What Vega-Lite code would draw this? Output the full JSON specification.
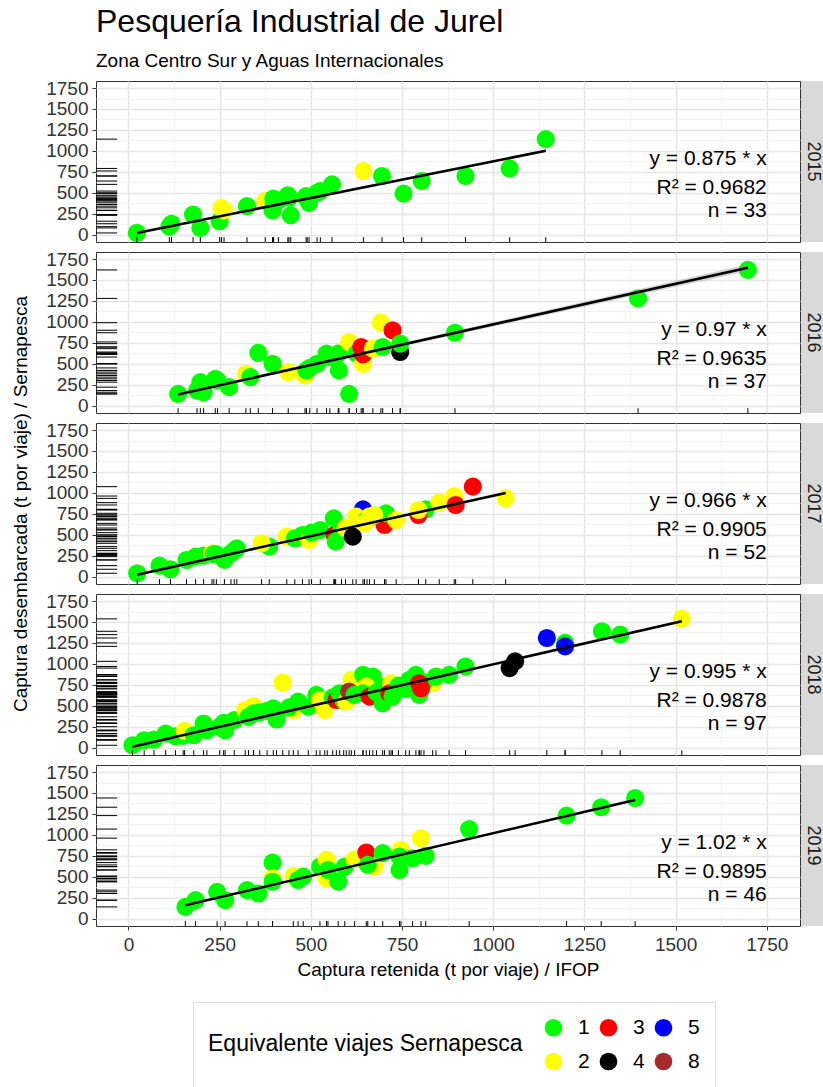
{
"$schema": "https://vega.github.io/schema/vega-lite/v6.json",
"autosize": {"type": "pad"},
"padding": {"left": 11, "top": 5, "right": 0, "bottom": 2},
"title": {"text": "Pesquería Industrial de Jurel", "subtitle": "Zona Centro Sur y Aguas Internacionales", "anchor": "start", "frame": "group", "font": "Liberation Sans", "fontSize": 32, "fontWeight": "normal", "color": "black", "subtitleFont": "Liberation Sans", "subtitleFontSize": 19, "subtitleColor": "black", "subtitlePadding": 13, "offset": 7},
"datasets": {
"pts": [
{"year":"2015","x":23,"y":20,"eq":"1"},{"year":"2015","x":112,"y":95,"eq":"1"},{"year":"2015","x":118,"y":130,"eq":"1"},{"year":"2015","x":177,"y":240,"eq":"1"},{"year":"2015","x":197,"y":80,"eq":"1"},{"year":"2015","x":250,"y":160,"eq":"1"},{"year":"2015","x":255,"y":320,"eq":"2"},{"year":"2015","x":262,"y":290,"eq":"2"},{"year":"2015","x":325,"y":340,"eq":"1"},{"year":"2015","x":375,"y":400,"eq":"2"},{"year":"2015","x":397,"y":430,"eq":"1"},{"year":"2015","x":395,"y":290,"eq":"1"},{"year":"2015","x":398,"y":360,"eq":"1"},{"year":"2015","x":411,"y":410,"eq":"1"},{"year":"2015","x":437,"y":470,"eq":"1"},{"year":"2015","x":440,"y":440,"eq":"1"},{"year":"2015","x":445,"y":230,"eq":"1"},{"year":"2015","x":487,"y":460,"eq":"1"},{"year":"2015","x":490,"y":420,"eq":"1"},{"year":"2015","x":495,"y":380,"eq":"1"},{"year":"2015","x":517,"y":500,"eq":"1"},{"year":"2015","x":526,"y":520,"eq":"1"},{"year":"2015","x":558,"y":600,"eq":"1"},{"year":"2015","x":644,"y":760,"eq":"2"},{"year":"2015","x":695,"y":700,"eq":"1"},{"year":"2015","x":754,"y":490,"eq":"1"},{"year":"2015","x":804,"y":640,"eq":"1"},{"year":"2015","x":924,"y":700,"eq":"1"},{"year":"2015","x":1045,"y":790,"eq":"1"},{"year":"2015","x":1144,"y":1140,"eq":"1"},
{"year":"2016","x":136,"y":140,"eq":"1"},{"year":"2016","x":188,"y":180,"eq":"1"},{"year":"2016","x":197,"y":280,"eq":"1"},{"year":"2016","x":206,"y":160,"eq":"1"},{"year":"2016","x":238,"y":320,"eq":"1"},{"year":"2016","x":244,"y":300,"eq":"1"},{"year":"2016","x":276,"y":220,"eq":"1"},{"year":"2016","x":322,"y":380,"eq":"2"},{"year":"2016","x":334,"y":340,"eq":"1"},{"year":"2016","x":356,"y":630,"eq":"1"},{"year":"2016","x":395,"y":500,"eq":"1"},{"year":"2016","x":438,"y":400,"eq":"2"},{"year":"2016","x":484,"y":360,"eq":"2"},{"year":"2016","x":488,"y":420,"eq":"1"},{"year":"2016","x":497,"y":450,"eq":"1"},{"year":"2016","x":517,"y":500,"eq":"1"},{"year":"2016","x":543,"y":620,"eq":"1"},{"year":"2016","x":552,"y":580,"eq":"1"},{"year":"2016","x":575,"y":620,"eq":"1"},{"year":"2016","x":577,"y":420,"eq":"1"},{"year":"2016","x":605,"y":760,"eq":"2"},{"year":"2016","x":605,"y":140,"eq":"1"},{"year":"2016","x":625,"y":620,"eq":"1"},{"year":"2016","x":643,"y":500,"eq":"2"},{"year":"2016","x":638,"y":700,"eq":"3"},{"year":"2016","x":643,"y":612,"eq":"3"},{"year":"2016","x":670,"y":680,"eq":"2"},{"year":"2016","x":697,"y":700,"eq":"1"},{"year":"2016","x":692,"y":990,"eq":"2"},{"year":"2016","x":724,"y":900,"eq":"3"},{"year":"2016","x":745,"y":640,"eq":"4"},{"year":"2016","x":745,"y":740,"eq":"1"},{"year":"2016","x":895,"y":870,"eq":"1"},{"year":"2016","x":1397,"y":1280,"eq":"1"},{"year":"2016","x":1698,"y":1620,"eq":"1"},
{"year":"2017","x":24,"y":40,"eq":"1"},{"year":"2017","x":85,"y":131,"eq":"1"},{"year":"2017","x":115,"y":88,"eq":"1"},{"year":"2017","x":159,"y":199,"eq":"1"},{"year":"2017","x":184,"y":239,"eq":"1"},{"year":"2017","x":206,"y":251,"eq":"1"},{"year":"2017","x":229,"y":278,"eq":"2"},{"year":"2017","x":234,"y":270,"eq":"1"},{"year":"2017","x":241,"y":265,"eq":"1"},{"year":"2017","x":263,"y":200,"eq":"1"},{"year":"2017","x":281,"y":278,"eq":"1"},{"year":"2017","x":290,"y":310,"eq":"1"},{"year":"2017","x":297,"y":338,"eq":"1"},{"year":"2017","x":386,"y":358,"eq":"1"},{"year":"2017","x":365,"y":398,"eq":"2"},{"year":"2017","x":434,"y":477,"eq":"2"},{"year":"2017","x":456,"y":457,"eq":"1"},{"year":"2017","x":477,"y":497,"eq":"1"},{"year":"2017","x":495,"y":437,"eq":"2"},{"year":"2017","x":502,"y":525,"eq":"1"},{"year":"2017","x":526,"y":557,"eq":"1"},{"year":"2017","x":643,"y":803,"eq":"5"},{"year":"2017","x":565,"y":497,"eq":"3"},{"year":"2017","x":568,"y":418,"eq":"1"},{"year":"2017","x":563,"y":696,"eq":"1"},{"year":"2017","x":584,"y":560,"eq":"1"},{"year":"2017","x":595,"y":580,"eq":"2"},{"year":"2017","x":615,"y":477,"eq":"4"},{"year":"2017","x":624,"y":716,"eq":"2"},{"year":"2017","x":654,"y":680,"eq":"1"},{"year":"2017","x":647,"y":636,"eq":"2"},{"year":"2017","x":661,"y":716,"eq":"2"},{"year":"2017","x":702,"y":616,"eq":"3"},{"year":"2017","x":706,"y":756,"eq":"1"},{"year":"2017","x":674,"y":736,"eq":"2"},{"year":"2017","x":734,"y":676,"eq":"2"},{"year":"2017","x":815,"y":803,"eq":"1"},{"year":"2017","x":795,"y":736,"eq":"3"},{"year":"2017","x":795,"y":795,"eq":"2"},{"year":"2017","x":852,"y":883,"eq":"2"},{"year":"2017","x":893,"y":962,"eq":"2"},{"year":"2017","x":897,"y":855,"eq":"3"},{"year":"2017","x":944,"y":1074,"eq":"3"},{"year":"2017","x":1034,"y":934,"eq":"2"},
{"year":"2018","x":11,"y":28,"eq":"1"},{"year":"2018","x":43,"y":88,"eq":"1"},{"year":"2018","x":70,"y":96,"eq":"1"},{"year":"2018","x":102,"y":168,"eq":"1"},{"year":"2018","x":129,"y":136,"eq":"1"},{"year":"2018","x":150,"y":140,"eq":"1"},{"year":"2018","x":154,"y":200,"eq":"2"},{"year":"2018","x":179,"y":148,"eq":"1"},{"year":"2018","x":206,"y":288,"eq":"1"},{"year":"2018","x":215,"y":208,"eq":"1"},{"year":"2018","x":250,"y":250,"eq":"1"},{"year":"2018","x":261,"y":296,"eq":"1"},{"year":"2018","x":265,"y":208,"eq":"1"},{"year":"2018","x":290,"y":328,"eq":"1"},{"year":"2018","x":320,"y":449,"eq":"2"},{"year":"2018","x":343,"y":497,"eq":"2"},{"year":"2018","x":329,"y":368,"eq":"1"},{"year":"2018","x":343,"y":408,"eq":"1"},{"year":"2018","x":360,"y":420,"eq":"1"},{"year":"2018","x":380,"y":440,"eq":"1"},{"year":"2018","x":397,"y":469,"eq":"1"},{"year":"2018","x":406,"y":336,"eq":"1"},{"year":"2018","x":423,"y":777,"eq":"2"},{"year":"2018","x":452,"y":449,"eq":"2"},{"year":"2018","x":440,"y":480,"eq":"1"},{"year":"2018","x":465,"y":549,"eq":"1"},{"year":"2018","x":493,"y":489,"eq":"1"},{"year":"2018","x":515,"y":629,"eq":"1"},{"year":"2018","x":525,"y":569,"eq":"2"},{"year":"2018","x":538,"y":449,"eq":"2"},{"year":"2018","x":545,"y":520,"eq":"2"},{"year":"2018","x":560,"y":600,"eq":"1"},{"year":"2018","x":570,"y":569,"eq":"3"},{"year":"2018","x":579,"y":649,"eq":"1"},{"year":"2018","x":590,"y":560,"eq":"1"},{"year":"2018","x":597,"y":549,"eq":"2"},{"year":"2018","x":611,"y":809,"eq":"2"},{"year":"2018","x":605,"y":669,"eq":"8"},{"year":"2018","x":643,"y":869,"eq":"1"},{"year":"2018","x":670,"y":849,"eq":"1"},{"year":"2018","x":620,"y":630,"eq":"1"},{"year":"2018","x":652,"y":729,"eq":"2"},{"year":"2018","x":643,"y":649,"eq":"1"},{"year":"2018","x":661,"y":609,"eq":"3"},{"year":"2018","x":680,"y":660,"eq":"1"},{"year":"2018","x":697,"y":529,"eq":"1"},{"year":"2018","x":702,"y":729,"eq":"1"},{"year":"2018","x":720,"y":769,"eq":"2"},{"year":"2018","x":715,"y":649,"eq":"3"},{"year":"2018","x":724,"y":609,"eq":"1"},{"year":"2018","x":740,"y":740,"eq":"1"},{"year":"2018","x":760,"y":700,"eq":"1"},{"year":"2018","x":770,"y":809,"eq":"1"},{"year":"2018","x":788,"y":869,"eq":"1"},{"year":"2018","x":797,"y":629,"eq":"1"},{"year":"2018","x":834,"y":769,"eq":"2"},{"year":"2018","x":810,"y":780,"eq":"1"},{"year":"2018","x":797,"y":769,"eq":"3"},{"year":"2018","x":802,"y":709,"eq":"3"},{"year":"2018","x":843,"y":849,"eq":"1"},{"year":"2018","x":879,"y":869,"eq":"1"},{"year":"2018","x":924,"y":969,"eq":"1"},{"year":"2018","x":1045,"y":950,"eq":"4"},{"year":"2018","x":1060,"y":1030,"eq":"4"},{"year":"2018","x":1147,"y":1309,"eq":"5"},{"year":"2018","x":1197,"y":1250,"eq":"1"},{"year":"2018","x":1197,"y":1209,"eq":"5"},{"year":"2018","x":1298,"y":1389,"eq":"1"},{"year":"2018","x":1348,"y":1349,"eq":"1"},{"year":"2018","x":1517,"y":1537,"eq":"2"},
{"year":"2019","x":156,"y":140,"eq":"1"},{"year":"2019","x":184,"y":220,"eq":"1"},{"year":"2019","x":243,"y":320,"eq":"1"},{"year":"2019","x":265,"y":220,"eq":"1"},{"year":"2019","x":325,"y":340,"eq":"1"},{"year":"2019","x":356,"y":300,"eq":"1"},{"year":"2019","x":395,"y":669,"eq":"1"},{"year":"2019","x":395,"y":480,"eq":"2"},{"year":"2019","x":395,"y":440,"eq":"1"},{"year":"2019","x":452,"y":509,"eq":"2"},{"year":"2019","x":465,"y":461,"eq":"1"},{"year":"2019","x":479,"y":501,"eq":"1"},{"year":"2019","x":525,"y":621,"eq":"1"},{"year":"2019","x":543,"y":701,"eq":"2"},{"year":"2019","x":543,"y":481,"eq":"2"},{"year":"2019","x":547,"y":581,"eq":"1"},{"year":"2019","x":575,"y":441,"eq":"1"},{"year":"2019","x":593,"y":621,"eq":"1"},{"year":"2019","x":620,"y":709,"eq":"2"},{"year":"2019","x":652,"y":789,"eq":"3"},{"year":"2019","x":674,"y":621,"eq":"2"},{"year":"2019","x":656,"y":641,"eq":"1"},{"year":"2019","x":697,"y":781,"eq":"1"},{"year":"2019","x":747,"y":821,"eq":"2"},{"year":"2019","x":743,"y":741,"eq":"1"},{"year":"2019","x":743,"y":581,"eq":"1"},{"year":"2019","x":779,"y":721,"eq":"1"},{"year":"2019","x":802,"y":961,"eq":"2"},{"year":"2019","x":815,"y":749,"eq":"1"},{"year":"2019","x":934,"y":1069,"eq":"1"},{"year":"2019","x":1201,"y":1230,"eq":"1"},{"year":"2019","x":1296,"y":1330,"eq":"1"},{"year":"2019","x":1389,"y":1440,"eq":"1"}
],
"fit": [
{"year":"2015","x":23,"fit":20,"lo":19.6,"hi":20.4},{"year":"2015","x":1144,"fit":1001,"lo":983,"hi":1019},
{"year":"2016","x":136,"fit":132,"lo":128,"hi":136},{"year":"2016","x":1698,"fit":1647,"lo":1605,"hi":1689},
{"year":"2017","x":24,"fit":23,"lo":22.7,"hi":23.3},{"year":"2017","x":1034,"fit":999,"lo":987,"hi":1011},
{"year":"2018","x":11,"fit":11,"lo":10.9,"hi":11.1},{"year":"2018","x":1517,"fit":1509,"lo":1494,"hi":1524},
{"year":"2019","x":156,"fit":159,"lo":157,"hi":161},{"year":"2019","x":1389,"fit":1417,"lo":1400,"hi":1434}
],
"ann": [
{"year":"2015","eq":"y = 0.875 * x","r2":"R² = 0.9682","n":"n = 33"},
{"year":"2016","eq":"y = 0.97 * x","r2":"R² = 0.9635","n":"n = 37"},
{"year":"2017","eq":"y = 0.966 * x","r2":"R² = 0.9905","n":"n = 52"},
{"year":"2018","eq":"y = 0.995 * x","r2":"R² = 0.9878","n":"n = 97"},
{"year":"2019","eq":"y = 1.02 * x","r2":"R² = 0.9895","n":"n = 46"}
]
},
"columns": 2,
"spacing": {"row": 10, "column": 1},
"bounds": "flush",
"concat": [
{"width": 704, "height": 161, "layer": [
{"data": {"name": "pts"}, "transform": [{"filter": "datum.year == '2015'"}], "mark": {"type": "circle", "size": 330, "opacity": 1},
 "encoding": {"x": {"field": "x", "type": "quantitative", "scale": {"domain": [-89, 1841], "nice": false, "zero": false}, "axis": {"title": null, "values": [0,125,250,375,500,625,750,875,1000,1125,1250,1375,1500,1625,1750], "labels": false, "ticks": false, "domain": false, "gridColor": {"condition": {"test": "datum.value % 250 === 0", "value": "#E6E6E6"}, "value": "#F0F0F0"}, "gridWidth": {"condition": {"test": "datum.value % 250 === 0", "value": 1.6}, "value": 0.9}}},
  "y": {"field": "y", "type": "quantitative", "scale": {"domain": [-88, 1834], "nice": false, "zero": false}, "axis": {"title": null, "format": "d", "values": [0,125,250,375,500,625,750,875,1000,1125,1250,1375,1500,1625,1750], "labelExpr": "datum.value % 250 === 0 ? datum.label : ''", "labelOverlap": false, "tickOpacity": {"condition": {"test": "datum.value % 250 === 0", "value": 1}, "value": 0}, "domain": false, "gridColor": {"condition": {"test": "datum.value % 250 === 0", "value": "#E6E6E6"}, "value": "#F0F0F0"}, "gridWidth": {"condition": {"test": "datum.value % 250 === 0", "value": 1.6}, "value": 0.9}}},
  "color": {"field": "eq", "type": "nominal", "title": "Equivalente viajes Sernapesca", "scale": {"domain": ["1","3","5","2","4","8"], "range": ["#00FF00","#FF0000","#0000FF","#FFFF00","#000000","#A52A2A"]}, "legend": {"orient": "none", "legendX": 97, "legendY": 921}}}},
{"data": {"name": "fit"}, "transform": [{"filter": "datum.year == '2015'"}], "mark": {"type": "area", "color": "#999999", "opacity": 0.4}, "encoding": {"x": {"field": "x", "type": "quantitative"}, "y": {"field": "lo", "type": "quantitative", "axis": {"title": null, "format": "d", "values": [0,125,250,375,500,625,750,875,1000,1125,1250,1375,1500,1625,1750], "labelExpr": "datum.value % 250 === 0 ? datum.label : ''", "labelOverlap": false, "tickOpacity": {"condition": {"test": "datum.value % 250 === 0", "value": 1}, "value": 0}, "domain": false, "gridColor": {"condition": {"test": "datum.value % 250 === 0", "value": "#E6E6E6"}, "value": "#F0F0F0"}, "gridWidth": {"condition": {"test": "datum.value % 250 === 0", "value": 1.6}, "value": 0.9}}}, "y2": {"field": "hi"}}},
{"data": {"name": "fit"}, "transform": [{"filter": "datum.year == '2015'"}], "mark": {"type": "line", "color": "black", "strokeWidth": 2.6}, "encoding": {"x": {"field": "x", "type": "quantitative"}, "y": {"field": "fit", "type": "quantitative", "axis": {"title": null, "format": "d", "values": [0,125,250,375,500,625,750,875,1000,1125,1250,1375,1500,1625,1750], "labelExpr": "datum.value % 250 === 0 ? datum.label : ''", "labelOverlap": false, "tickOpacity": {"condition": {"test": "datum.value % 250 === 0", "value": 1}, "value": 0}, "domain": false, "gridColor": {"condition": {"test": "datum.value % 250 === 0", "value": "#E6E6E6"}, "value": "#F0F0F0"}, "gridWidth": {"condition": {"test": "datum.value % 250 === 0", "value": 1.6}, "value": 0.9}}}}},
{"data": {"name": "pts"}, "transform": [{"filter": "datum.year == '2015'"}], "mark": {"type": "rule", "color": "black", "strokeWidth": 1}, "encoding": {"x": {"field": "x", "type": "quantitative"}, "y": {"datum": -88, "axis": {"title": null, "format": "d", "values": [0,125,250,375,500,625,750,875,1000,1125,1250,1375,1500,1625,1750], "labelExpr": "datum.value % 250 === 0 ? datum.label : ''", "labelOverlap": false, "tickOpacity": {"condition": {"test": "datum.value % 250 === 0", "value": 1}, "value": 0}, "domain": false, "gridColor": {"condition": {"test": "datum.value % 250 === 0", "value": "#E6E6E6"}, "value": "#F0F0F0"}, "gridWidth": {"condition": {"test": "datum.value % 250 === 0", "value": 1.6}, "value": 0.9}}}, "y2": {"datum": -30}}},
{"data": {"name": "pts"}, "transform": [{"filter": "datum.year == '2015'"}], "mark": {"type": "rule", "color": "black", "strokeWidth": 1}, "encoding": {"y": {"field": "y", "type": "quantitative", "axis": {"title": null, "format": "d", "values": [0,125,250,375,500,625,750,875,1000,1125,1250,1375,1500,1625,1750], "labelExpr": "datum.value % 250 === 0 ? datum.label : ''", "labelOverlap": false, "tickOpacity": {"condition": {"test": "datum.value % 250 === 0", "value": 1}, "value": 0}, "domain": false, "gridColor": {"condition": {"test": "datum.value % 250 === 0", "value": "#E6E6E6"}, "value": "#F0F0F0"}, "gridWidth": {"condition": {"test": "datum.value % 250 === 0", "value": 1.6}, "value": 0.9}}}, "x": {"datum": -89}, "x2": {"datum": -31}}},
{"data": {"name": "ann"}, "transform": [{"filter": "datum.year == '2015'"}], "mark": {"type": "text", "align": "right", "baseline": "alphabetic", "fontSize": 21, "color": "black"}, "encoding": {"x": {"datum": 1750}, "y": {"datum": 830, "axis": {"title": null, "format": "d", "values": [0,125,250,375,500,625,750,875,1000,1125,1250,1375,1500,1625,1750], "labelExpr": "datum.value % 250 === 0 ? datum.label : ''", "labelOverlap": false, "tickOpacity": {"condition": {"test": "datum.value % 250 === 0", "value": 1}, "value": 0}, "domain": false, "gridColor": {"condition": {"test": "datum.value % 250 === 0", "value": "#E6E6E6"}, "value": "#F0F0F0"}, "gridWidth": {"condition": {"test": "datum.value % 250 === 0", "value": 1.6}, "value": 0.9}}}, "text": {"field": "eq"}}},
{"data": {"name": "ann"}, "transform": [{"filter": "datum.year == '2015'"}], "mark": {"type": "text", "align": "right", "baseline": "alphabetic", "fontSize": 21, "color": "black"}, "encoding": {"x": {"datum": 1750}, "y": {"datum": 490, "axis": {"title": null, "format": "d", "values": [0,125,250,375,500,625,750,875,1000,1125,1250,1375,1500,1625,1750], "labelExpr": "datum.value % 250 === 0 ? datum.label : ''", "labelOverlap": false, "tickOpacity": {"condition": {"test": "datum.value % 250 === 0", "value": 1}, "value": 0}, "domain": false, "gridColor": {"condition": {"test": "datum.value % 250 === 0", "value": "#E6E6E6"}, "value": "#F0F0F0"}, "gridWidth": {"condition": {"test": "datum.value % 250 === 0", "value": 1.6}, "value": 0.9}}}, "text": {"field": "r2"}}},
{"data": {"name": "ann"}, "transform": [{"filter": "datum.year == '2015'"}], "mark": {"type": "text", "align": "right", "baseline": "alphabetic", "fontSize": 21, "color": "black"}, "encoding": {"x": {"datum": 1750}, "y": {"datum": 205, "axis": {"title": null, "format": "d", "values": [0,125,250,375,500,625,750,875,1000,1125,1250,1375,1500,1625,1750], "labelExpr": "datum.value % 250 === 0 ? datum.label : ''", "labelOverlap": false, "tickOpacity": {"condition": {"test": "datum.value % 250 === 0", "value": 1}, "value": 0}, "domain": false, "gridColor": {"condition": {"test": "datum.value % 250 === 0", "value": "#E6E6E6"}, "value": "#F0F0F0"}, "gridWidth": {"condition": {"test": "datum.value % 250 === 0", "value": 1.6}, "value": 0.9}}}, "text": {"field": "n"}}}
]},
{"width": 23, "height": 161, "view": {"fill": "#D9D9D9", "stroke": null}, "data": {"name": "ann"}, "transform": [{"filter": "datum.year == '2015'"}], "mark": {"type": "text", "angle": 90, "fontSize": 18, "color": "#1A1A1A", "align": "center", "baseline": "middle"}, "encoding": {"text": {"field": "year"}}},
{"width": 704, "height": 161, "layer": [
{"data": {"name": "pts"}, "transform": [{"filter": "datum.year == '2016'"}], "mark": {"type": "circle", "size": 330, "opacity": 1},
 "encoding": {"x": {"field": "x", "type": "quantitative", "scale": {"domain": [-89, 1841], "nice": false, "zero": false}, "axis": {"title": null, "values": [0,125,250,375,500,625,750,875,1000,1125,1250,1375,1500,1625,1750], "labels": false, "ticks": false, "domain": false, "gridColor": {"condition": {"test": "datum.value % 250 === 0", "value": "#E6E6E6"}, "value": "#F0F0F0"}, "gridWidth": {"condition": {"test": "datum.value % 250 === 0", "value": 1.6}, "value": 0.9}}},
  "y": {"field": "y", "type": "quantitative", "scale": {"domain": [-88, 1834], "nice": false, "zero": false}, "axis": {"title": null, "format": "d", "values": [0,125,250,375,500,625,750,875,1000,1125,1250,1375,1500,1625,1750], "labelExpr": "datum.value % 250 === 0 ? datum.label : ''", "labelOverlap": false, "tickOpacity": {"condition": {"test": "datum.value % 250 === 0", "value": 1}, "value": 0}, "domain": false, "gridColor": {"condition": {"test": "datum.value % 250 === 0", "value": "#E6E6E6"}, "value": "#F0F0F0"}, "gridWidth": {"condition": {"test": "datum.value % 250 === 0", "value": 1.6}, "value": 0.9}}},
  "color": {"field": "eq", "type": "nominal", "title": "Equivalente viajes Sernapesca", "scale": {"domain": ["1","3","5","2","4","8"], "range": ["#00FF00","#FF0000","#0000FF","#FFFF00","#000000","#A52A2A"]}, "legend": {"orient": "none", "legendX": 97, "legendY": 921}}}},
{"data": {"name": "fit"}, "transform": [{"filter": "datum.year == '2016'"}], "mark": {"type": "area", "color": "#999999", "opacity": 0.4}, "encoding": {"x": {"field": "x", "type": "quantitative"}, "y": {"field": "lo", "type": "quantitative", "axis": {"title": null, "format": "d", "values": [0,125,250,375,500,625,750,875,1000,1125,1250,1375,1500,1625,1750], "labelExpr": "datum.value % 250 === 0 ? datum.label : ''", "labelOverlap": false, "tickOpacity": {"condition": {"test": "datum.value % 250 === 0", "value": 1}, "value": 0}, "domain": false, "gridColor": {"condition": {"test": "datum.value % 250 === 0", "value": "#E6E6E6"}, "value": "#F0F0F0"}, "gridWidth": {"condition": {"test": "datum.value % 250 === 0", "value": 1.6}, "value": 0.9}}}, "y2": {"field": "hi"}}},
{"data": {"name": "fit"}, "transform": [{"filter": "datum.year == '2016'"}], "mark": {"type": "line", "color": "black", "strokeWidth": 2.6}, "encoding": {"x": {"field": "x", "type": "quantitative"}, "y": {"field": "fit", "type": "quantitative", "axis": {"title": null, "format": "d", "values": [0,125,250,375,500,625,750,875,1000,1125,1250,1375,1500,1625,1750], "labelExpr": "datum.value % 250 === 0 ? datum.label : ''", "labelOverlap": false, "tickOpacity": {"condition": {"test": "datum.value % 250 === 0", "value": 1}, "value": 0}, "domain": false, "gridColor": {"condition": {"test": "datum.value % 250 === 0", "value": "#E6E6E6"}, "value": "#F0F0F0"}, "gridWidth": {"condition": {"test": "datum.value % 250 === 0", "value": 1.6}, "value": 0.9}}}}},
{"data": {"name": "pts"}, "transform": [{"filter": "datum.year == '2016'"}], "mark": {"type": "rule", "color": "black", "strokeWidth": 1}, "encoding": {"x": {"field": "x", "type": "quantitative"}, "y": {"datum": -88, "axis": {"title": null, "format": "d", "values": [0,125,250,375,500,625,750,875,1000,1125,1250,1375,1500,1625,1750], "labelExpr": "datum.value % 250 === 0 ? datum.label : ''", "labelOverlap": false, "tickOpacity": {"condition": {"test": "datum.value % 250 === 0", "value": 1}, "value": 0}, "domain": false, "gridColor": {"condition": {"test": "datum.value % 250 === 0", "value": "#E6E6E6"}, "value": "#F0F0F0"}, "gridWidth": {"condition": {"test": "datum.value % 250 === 0", "value": 1.6}, "value": 0.9}}}, "y2": {"datum": -30}}},
{"data": {"name": "pts"}, "transform": [{"filter": "datum.year == '2016'"}], "mark": {"type": "rule", "color": "black", "strokeWidth": 1}, "encoding": {"y": {"field": "y", "type": "quantitative", "axis": {"title": null, "format": "d", "values": [0,125,250,375,500,625,750,875,1000,1125,1250,1375,1500,1625,1750], "labelExpr": "datum.value % 250 === 0 ? datum.label : ''", "labelOverlap": false, "tickOpacity": {"condition": {"test": "datum.value % 250 === 0", "value": 1}, "value": 0}, "domain": false, "gridColor": {"condition": {"test": "datum.value % 250 === 0", "value": "#E6E6E6"}, "value": "#F0F0F0"}, "gridWidth": {"condition": {"test": "datum.value % 250 === 0", "value": 1.6}, "value": 0.9}}}, "x": {"datum": -89}, "x2": {"datum": -31}}},
{"data": {"name": "ann"}, "transform": [{"filter": "datum.year == '2016'"}], "mark": {"type": "text", "align": "right", "baseline": "alphabetic", "fontSize": 21, "color": "black"}, "encoding": {"x": {"datum": 1750}, "y": {"datum": 830, "axis": {"title": null, "format": "d", "values": [0,125,250,375,500,625,750,875,1000,1125,1250,1375,1500,1625,1750], "labelExpr": "datum.value % 250 === 0 ? datum.label : ''", "labelOverlap": false, "tickOpacity": {"condition": {"test": "datum.value % 250 === 0", "value": 1}, "value": 0}, "domain": false, "gridColor": {"condition": {"test": "datum.value % 250 === 0", "value": "#E6E6E6"}, "value": "#F0F0F0"}, "gridWidth": {"condition": {"test": "datum.value % 250 === 0", "value": 1.6}, "value": 0.9}}}, "text": {"field": "eq"}}},
{"data": {"name": "ann"}, "transform": [{"filter": "datum.year == '2016'"}], "mark": {"type": "text", "align": "right", "baseline": "alphabetic", "fontSize": 21, "color": "black"}, "encoding": {"x": {"datum": 1750}, "y": {"datum": 490, "axis": {"title": null, "format": "d", "values": [0,125,250,375,500,625,750,875,1000,1125,1250,1375,1500,1625,1750], "labelExpr": "datum.value % 250 === 0 ? datum.label : ''", "labelOverlap": false, "tickOpacity": {"condition": {"test": "datum.value % 250 === 0", "value": 1}, "value": 0}, "domain": false, "gridColor": {"condition": {"test": "datum.value % 250 === 0", "value": "#E6E6E6"}, "value": "#F0F0F0"}, "gridWidth": {"condition": {"test": "datum.value % 250 === 0", "value": 1.6}, "value": 0.9}}}, "text": {"field": "r2"}}},
{"data": {"name": "ann"}, "transform": [{"filter": "datum.year == '2016'"}], "mark": {"type": "text", "align": "right", "baseline": "alphabetic", "fontSize": 21, "color": "black"}, "encoding": {"x": {"datum": 1750}, "y": {"datum": 205, "axis": {"title": null, "format": "d", "values": [0,125,250,375,500,625,750,875,1000,1125,1250,1375,1500,1625,1750], "labelExpr": "datum.value % 250 === 0 ? datum.label : ''", "labelOverlap": false, "tickOpacity": {"condition": {"test": "datum.value % 250 === 0", "value": 1}, "value": 0}, "domain": false, "gridColor": {"condition": {"test": "datum.value % 250 === 0", "value": "#E6E6E6"}, "value": "#F0F0F0"}, "gridWidth": {"condition": {"test": "datum.value % 250 === 0", "value": 1.6}, "value": 0.9}}}, "text": {"field": "n"}}}
]},
{"width": 23, "height": 161, "view": {"fill": "#D9D9D9", "stroke": null}, "data": {"name": "ann"}, "transform": [{"filter": "datum.year == '2016'"}], "mark": {"type": "text", "angle": 90, "fontSize": 18, "color": "#1A1A1A", "align": "center", "baseline": "middle"}, "encoding": {"text": {"field": "year"}}},
{"width": 704, "height": 161, "layer": [
{"data": {"name": "pts"}, "transform": [{"filter": "datum.year == '2017'"}], "mark": {"type": "circle", "size": 330, "opacity": 1},
 "encoding": {"x": {"field": "x", "type": "quantitative", "scale": {"domain": [-89, 1841], "nice": false, "zero": false}, "axis": {"title": null, "values": [0,125,250,375,500,625,750,875,1000,1125,1250,1375,1500,1625,1750], "labels": false, "ticks": false, "domain": false, "gridColor": {"condition": {"test": "datum.value % 250 === 0", "value": "#E6E6E6"}, "value": "#F0F0F0"}, "gridWidth": {"condition": {"test": "datum.value % 250 === 0", "value": 1.6}, "value": 0.9}}},
  "y": {"field": "y", "type": "quantitative", "scale": {"domain": [-88, 1834], "nice": false, "zero": false}, "axis": {"title": "Captura desembarcada (t por viaje) / Sernapesca", "titleFontSize": 19, "titleFontWeight": "normal", "titleColor": "black", "titlePadding": 15, "format": "d", "values": [0,125,250,375,500,625,750,875,1000,1125,1250,1375,1500,1625,1750], "labelExpr": "datum.value % 250 === 0 ? datum.label : ''", "labelOverlap": false, "tickOpacity": {"condition": {"test": "datum.value % 250 === 0", "value": 1}, "value": 0}, "domain": false, "gridColor": {"condition": {"test": "datum.value % 250 === 0", "value": "#E6E6E6"}, "value": "#F0F0F0"}, "gridWidth": {"condition": {"test": "datum.value % 250 === 0", "value": 1.6}, "value": 0.9}}},
  "color": {"field": "eq", "type": "nominal", "title": "Equivalente viajes Sernapesca", "scale": {"domain": ["1","3","5","2","4","8"], "range": ["#00FF00","#FF0000","#0000FF","#FFFF00","#000000","#A52A2A"]}, "legend": {"orient": "none", "legendX": 97, "legendY": 921}}}},
{"data": {"name": "fit"}, "transform": [{"filter": "datum.year == '2017'"}], "mark": {"type": "area", "color": "#999999", "opacity": 0.4}, "encoding": {"x": {"field": "x", "type": "quantitative"}, "y": {"field": "lo", "type": "quantitative", "axis": {"title": "Captura desembarcada (t por viaje) / Sernapesca", "titleFontSize": 19, "titleFontWeight": "normal", "titleColor": "black", "titlePadding": 15, "format": "d", "values": [0,125,250,375,500,625,750,875,1000,1125,1250,1375,1500,1625,1750], "labelExpr": "datum.value % 250 === 0 ? datum.label : ''", "labelOverlap": false, "tickOpacity": {"condition": {"test": "datum.value % 250 === 0", "value": 1}, "value": 0}, "domain": false, "gridColor": {"condition": {"test": "datum.value % 250 === 0", "value": "#E6E6E6"}, "value": "#F0F0F0"}, "gridWidth": {"condition": {"test": "datum.value % 250 === 0", "value": 1.6}, "value": 0.9}}}, "y2": {"field": "hi"}}},
{"data": {"name": "fit"}, "transform": [{"filter": "datum.year == '2017'"}], "mark": {"type": "line", "color": "black", "strokeWidth": 2.6}, "encoding": {"x": {"field": "x", "type": "quantitative"}, "y": {"field": "fit", "type": "quantitative", "axis": {"title": "Captura desembarcada (t por viaje) / Sernapesca", "titleFontSize": 19, "titleFontWeight": "normal", "titleColor": "black", "titlePadding": 15, "format": "d", "values": [0,125,250,375,500,625,750,875,1000,1125,1250,1375,1500,1625,1750], "labelExpr": "datum.value % 250 === 0 ? datum.label : ''", "labelOverlap": false, "tickOpacity": {"condition": {"test": "datum.value % 250 === 0", "value": 1}, "value": 0}, "domain": false, "gridColor": {"condition": {"test": "datum.value % 250 === 0", "value": "#E6E6E6"}, "value": "#F0F0F0"}, "gridWidth": {"condition": {"test": "datum.value % 250 === 0", "value": 1.6}, "value": 0.9}}}}},
{"data": {"name": "pts"}, "transform": [{"filter": "datum.year == '2017'"}], "mark": {"type": "rule", "color": "black", "strokeWidth": 1}, "encoding": {"x": {"field": "x", "type": "quantitative"}, "y": {"datum": -88, "axis": {"title": "Captura desembarcada (t por viaje) / Sernapesca", "titleFontSize": 19, "titleFontWeight": "normal", "titleColor": "black", "titlePadding": 15, "format": "d", "values": [0,125,250,375,500,625,750,875,1000,1125,1250,1375,1500,1625,1750], "labelExpr": "datum.value % 250 === 0 ? datum.label : ''", "labelOverlap": false, "tickOpacity": {"condition": {"test": "datum.value % 250 === 0", "value": 1}, "value": 0}, "domain": false, "gridColor": {"condition": {"test": "datum.value % 250 === 0", "value": "#E6E6E6"}, "value": "#F0F0F0"}, "gridWidth": {"condition": {"test": "datum.value % 250 === 0", "value": 1.6}, "value": 0.9}}}, "y2": {"datum": -30}}},
{"data": {"name": "pts"}, "transform": [{"filter": "datum.year == '2017'"}], "mark": {"type": "rule", "color": "black", "strokeWidth": 1}, "encoding": {"y": {"field": "y", "type": "quantitative", "axis": {"title": "Captura desembarcada (t por viaje) / Sernapesca", "titleFontSize": 19, "titleFontWeight": "normal", "titleColor": "black", "titlePadding": 15, "format": "d", "values": [0,125,250,375,500,625,750,875,1000,1125,1250,1375,1500,1625,1750], "labelExpr": "datum.value % 250 === 0 ? datum.label : ''", "labelOverlap": false, "tickOpacity": {"condition": {"test": "datum.value % 250 === 0", "value": 1}, "value": 0}, "domain": false, "gridColor": {"condition": {"test": "datum.value % 250 === 0", "value": "#E6E6E6"}, "value": "#F0F0F0"}, "gridWidth": {"condition": {"test": "datum.value % 250 === 0", "value": 1.6}, "value": 0.9}}}, "x": {"datum": -89}, "x2": {"datum": -31}}},
{"data": {"name": "ann"}, "transform": [{"filter": "datum.year == '2017'"}], "mark": {"type": "text", "align": "right", "baseline": "alphabetic", "fontSize": 21, "color": "black"}, "encoding": {"x": {"datum": 1750}, "y": {"datum": 830, "axis": {"title": "Captura desembarcada (t por viaje) / Sernapesca", "titleFontSize": 19, "titleFontWeight": "normal", "titleColor": "black", "titlePadding": 15, "format": "d", "values": [0,125,250,375,500,625,750,875,1000,1125,1250,1375,1500,1625,1750], "labelExpr": "datum.value % 250 === 0 ? datum.label : ''", "labelOverlap": false, "tickOpacity": {"condition": {"test": "datum.value % 250 === 0", "value": 1}, "value": 0}, "domain": false, "gridColor": {"condition": {"test": "datum.value % 250 === 0", "value": "#E6E6E6"}, "value": "#F0F0F0"}, "gridWidth": {"condition": {"test": "datum.value % 250 === 0", "value": 1.6}, "value": 0.9}}}, "text": {"field": "eq"}}},
{"data": {"name": "ann"}, "transform": [{"filter": "datum.year == '2017'"}], "mark": {"type": "text", "align": "right", "baseline": "alphabetic", "fontSize": 21, "color": "black"}, "encoding": {"x": {"datum": 1750}, "y": {"datum": 490, "axis": {"title": "Captura desembarcada (t por viaje) / Sernapesca", "titleFontSize": 19, "titleFontWeight": "normal", "titleColor": "black", "titlePadding": 15, "format": "d", "values": [0,125,250,375,500,625,750,875,1000,1125,1250,1375,1500,1625,1750], "labelExpr": "datum.value % 250 === 0 ? datum.label : ''", "labelOverlap": false, "tickOpacity": {"condition": {"test": "datum.value % 250 === 0", "value": 1}, "value": 0}, "domain": false, "gridColor": {"condition": {"test": "datum.value % 250 === 0", "value": "#E6E6E6"}, "value": "#F0F0F0"}, "gridWidth": {"condition": {"test": "datum.value % 250 === 0", "value": 1.6}, "value": 0.9}}}, "text": {"field": "r2"}}},
{"data": {"name": "ann"}, "transform": [{"filter": "datum.year == '2017'"}], "mark": {"type": "text", "align": "right", "baseline": "alphabetic", "fontSize": 21, "color": "black"}, "encoding": {"x": {"datum": 1750}, "y": {"datum": 205, "axis": {"title": "Captura desembarcada (t por viaje) / Sernapesca", "titleFontSize": 19, "titleFontWeight": "normal", "titleColor": "black", "titlePadding": 15, "format": "d", "values": [0,125,250,375,500,625,750,875,1000,1125,1250,1375,1500,1625,1750], "labelExpr": "datum.value % 250 === 0 ? datum.label : ''", "labelOverlap": false, "tickOpacity": {"condition": {"test": "datum.value % 250 === 0", "value": 1}, "value": 0}, "domain": false, "gridColor": {"condition": {"test": "datum.value % 250 === 0", "value": "#E6E6E6"}, "value": "#F0F0F0"}, "gridWidth": {"condition": {"test": "datum.value % 250 === 0", "value": 1.6}, "value": 0.9}}}, "text": {"field": "n"}}}
]},
{"width": 23, "height": 161, "view": {"fill": "#D9D9D9", "stroke": null}, "data": {"name": "ann"}, "transform": [{"filter": "datum.year == '2017'"}], "mark": {"type": "text", "angle": 90, "fontSize": 18, "color": "#1A1A1A", "align": "center", "baseline": "middle"}, "encoding": {"text": {"field": "year"}}},
{"width": 704, "height": 161, "layer": [
{"data": {"name": "pts"}, "transform": [{"filter": "datum.year == '2018'"}], "mark": {"type": "circle", "size": 330, "opacity": 1},
 "encoding": {"x": {"field": "x", "type": "quantitative", "scale": {"domain": [-89, 1841], "nice": false, "zero": false}, "axis": {"title": null, "values": [0,125,250,375,500,625,750,875,1000,1125,1250,1375,1500,1625,1750], "labels": false, "ticks": false, "domain": false, "gridColor": {"condition": {"test": "datum.value % 250 === 0", "value": "#E6E6E6"}, "value": "#F0F0F0"}, "gridWidth": {"condition": {"test": "datum.value % 250 === 0", "value": 1.6}, "value": 0.9}}},
  "y": {"field": "y", "type": "quantitative", "scale": {"domain": [-88, 1834], "nice": false, "zero": false}, "axis": {"title": null, "format": "d", "values": [0,125,250,375,500,625,750,875,1000,1125,1250,1375,1500,1625,1750], "labelExpr": "datum.value % 250 === 0 ? datum.label : ''", "labelOverlap": false, "tickOpacity": {"condition": {"test": "datum.value % 250 === 0", "value": 1}, "value": 0}, "domain": false, "gridColor": {"condition": {"test": "datum.value % 250 === 0", "value": "#E6E6E6"}, "value": "#F0F0F0"}, "gridWidth": {"condition": {"test": "datum.value % 250 === 0", "value": 1.6}, "value": 0.9}}},
  "color": {"field": "eq", "type": "nominal", "title": "Equivalente viajes Sernapesca", "scale": {"domain": ["1","3","5","2","4","8"], "range": ["#00FF00","#FF0000","#0000FF","#FFFF00","#000000","#A52A2A"]}, "legend": {"orient": "none", "legendX": 97, "legendY": 921}}}},
{"data": {"name": "fit"}, "transform": [{"filter": "datum.year == '2018'"}], "mark": {"type": "area", "color": "#999999", "opacity": 0.4}, "encoding": {"x": {"field": "x", "type": "quantitative"}, "y": {"field": "lo", "type": "quantitative", "axis": {"title": null, "format": "d", "values": [0,125,250,375,500,625,750,875,1000,1125,1250,1375,1500,1625,1750], "labelExpr": "datum.value % 250 === 0 ? datum.label : ''", "labelOverlap": false, "tickOpacity": {"condition": {"test": "datum.value % 250 === 0", "value": 1}, "value": 0}, "domain": false, "gridColor": {"condition": {"test": "datum.value % 250 === 0", "value": "#E6E6E6"}, "value": "#F0F0F0"}, "gridWidth": {"condition": {"test": "datum.value % 250 === 0", "value": 1.6}, "value": 0.9}}}, "y2": {"field": "hi"}}},
{"data": {"name": "fit"}, "transform": [{"filter": "datum.year == '2018'"}], "mark": {"type": "line", "color": "black", "strokeWidth": 2.6}, "encoding": {"x": {"field": "x", "type": "quantitative"}, "y": {"field": "fit", "type": "quantitative", "axis": {"title": null, "format": "d", "values": [0,125,250,375,500,625,750,875,1000,1125,1250,1375,1500,1625,1750], "labelExpr": "datum.value % 250 === 0 ? datum.label : ''", "labelOverlap": false, "tickOpacity": {"condition": {"test": "datum.value % 250 === 0", "value": 1}, "value": 0}, "domain": false, "gridColor": {"condition": {"test": "datum.value % 250 === 0", "value": "#E6E6E6"}, "value": "#F0F0F0"}, "gridWidth": {"condition": {"test": "datum.value % 250 === 0", "value": 1.6}, "value": 0.9}}}}},
{"data": {"name": "pts"}, "transform": [{"filter": "datum.year == '2018'"}], "mark": {"type": "rule", "color": "black", "strokeWidth": 1}, "encoding": {"x": {"field": "x", "type": "quantitative"}, "y": {"datum": -88, "axis": {"title": null, "format": "d", "values": [0,125,250,375,500,625,750,875,1000,1125,1250,1375,1500,1625,1750], "labelExpr": "datum.value % 250 === 0 ? datum.label : ''", "labelOverlap": false, "tickOpacity": {"condition": {"test": "datum.value % 250 === 0", "value": 1}, "value": 0}, "domain": false, "gridColor": {"condition": {"test": "datum.value % 250 === 0", "value": "#E6E6E6"}, "value": "#F0F0F0"}, "gridWidth": {"condition": {"test": "datum.value % 250 === 0", "value": 1.6}, "value": 0.9}}}, "y2": {"datum": -30}}},
{"data": {"name": "pts"}, "transform": [{"filter": "datum.year == '2018'"}], "mark": {"type": "rule", "color": "black", "strokeWidth": 1}, "encoding": {"y": {"field": "y", "type": "quantitative", "axis": {"title": null, "format": "d", "values": [0,125,250,375,500,625,750,875,1000,1125,1250,1375,1500,1625,1750], "labelExpr": "datum.value % 250 === 0 ? datum.label : ''", "labelOverlap": false, "tickOpacity": {"condition": {"test": "datum.value % 250 === 0", "value": 1}, "value": 0}, "domain": false, "gridColor": {"condition": {"test": "datum.value % 250 === 0", "value": "#E6E6E6"}, "value": "#F0F0F0"}, "gridWidth": {"condition": {"test": "datum.value % 250 === 0", "value": 1.6}, "value": 0.9}}}, "x": {"datum": -89}, "x2": {"datum": -31}}},
{"data": {"name": "ann"}, "transform": [{"filter": "datum.year == '2018'"}], "mark": {"type": "text", "align": "right", "baseline": "alphabetic", "fontSize": 21, "color": "black"}, "encoding": {"x": {"datum": 1750}, "y": {"datum": 830, "axis": {"title": null, "format": "d", "values": [0,125,250,375,500,625,750,875,1000,1125,1250,1375,1500,1625,1750], "labelExpr": "datum.value % 250 === 0 ? datum.label : ''", "labelOverlap": false, "tickOpacity": {"condition": {"test": "datum.value % 250 === 0", "value": 1}, "value": 0}, "domain": false, "gridColor": {"condition": {"test": "datum.value % 250 === 0", "value": "#E6E6E6"}, "value": "#F0F0F0"}, "gridWidth": {"condition": {"test": "datum.value % 250 === 0", "value": 1.6}, "value": 0.9}}}, "text": {"field": "eq"}}},
{"data": {"name": "ann"}, "transform": [{"filter": "datum.year == '2018'"}], "mark": {"type": "text", "align": "right", "baseline": "alphabetic", "fontSize": 21, "color": "black"}, "encoding": {"x": {"datum": 1750}, "y": {"datum": 490, "axis": {"title": null, "format": "d", "values": [0,125,250,375,500,625,750,875,1000,1125,1250,1375,1500,1625,1750], "labelExpr": "datum.value % 250 === 0 ? datum.label : ''", "labelOverlap": false, "tickOpacity": {"condition": {"test": "datum.value % 250 === 0", "value": 1}, "value": 0}, "domain": false, "gridColor": {"condition": {"test": "datum.value % 250 === 0", "value": "#E6E6E6"}, "value": "#F0F0F0"}, "gridWidth": {"condition": {"test": "datum.value % 250 === 0", "value": 1.6}, "value": 0.9}}}, "text": {"field": "r2"}}},
{"data": {"name": "ann"}, "transform": [{"filter": "datum.year == '2018'"}], "mark": {"type": "text", "align": "right", "baseline": "alphabetic", "fontSize": 21, "color": "black"}, "encoding": {"x": {"datum": 1750}, "y": {"datum": 205, "axis": {"title": null, "format": "d", "values": [0,125,250,375,500,625,750,875,1000,1125,1250,1375,1500,1625,1750], "labelExpr": "datum.value % 250 === 0 ? datum.label : ''", "labelOverlap": false, "tickOpacity": {"condition": {"test": "datum.value % 250 === 0", "value": 1}, "value": 0}, "domain": false, "gridColor": {"condition": {"test": "datum.value % 250 === 0", "value": "#E6E6E6"}, "value": "#F0F0F0"}, "gridWidth": {"condition": {"test": "datum.value % 250 === 0", "value": 1.6}, "value": 0.9}}}, "text": {"field": "n"}}}
]},
{"width": 23, "height": 161, "view": {"fill": "#D9D9D9", "stroke": null}, "data": {"name": "ann"}, "transform": [{"filter": "datum.year == '2018'"}], "mark": {"type": "text", "angle": 90, "fontSize": 18, "color": "#1A1A1A", "align": "center", "baseline": "middle"}, "encoding": {"text": {"field": "year"}}},
{"width": 704, "height": 161, "layer": [
{"data": {"name": "pts"}, "transform": [{"filter": "datum.year == '2019'"}], "mark": {"type": "circle", "size": 330, "opacity": 1},
 "encoding": {"x": {"field": "x", "type": "quantitative", "scale": {"domain": [-89, 1841], "nice": false, "zero": false}, "axis": {"title": "Captura retenida (t por viaje) / IFOP", "titleFontSize": 19, "titleFontWeight": "normal", "titleColor": "black", "titlePadding": 6, "labelPadding": 5, "format": "d", "values": [0,125,250,375,500,625,750,875,1000,1125,1250,1375,1500,1625,1750], "labelExpr": "datum.value % 250 === 0 ? datum.label : ''", "labelOverlap": false, "tickOpacity": {"condition": {"test": "datum.value % 250 === 0", "value": 1}, "value": 0}, "domain": false, "gridColor": {"condition": {"test": "datum.value % 250 === 0", "value": "#E6E6E6"}, "value": "#F0F0F0"}, "gridWidth": {"condition": {"test": "datum.value % 250 === 0", "value": 1.6}, "value": 0.9}}},
  "y": {"field": "y", "type": "quantitative", "scale": {"domain": [-88, 1834], "nice": false, "zero": false}, "axis": {"title": null, "format": "d", "values": [0,125,250,375,500,625,750,875,1000,1125,1250,1375,1500,1625,1750], "labelExpr": "datum.value % 250 === 0 ? datum.label : ''", "labelOverlap": false, "tickOpacity": {"condition": {"test": "datum.value % 250 === 0", "value": 1}, "value": 0}, "domain": false, "gridColor": {"condition": {"test": "datum.value % 250 === 0", "value": "#E6E6E6"}, "value": "#F0F0F0"}, "gridWidth": {"condition": {"test": "datum.value % 250 === 0", "value": 1.6}, "value": 0.9}}},
  "color": {"field": "eq", "type": "nominal", "title": "Equivalente viajes Sernapesca", "scale": {"domain": ["1","3","5","2","4","8"], "range": ["#00FF00","#FF0000","#0000FF","#FFFF00","#000000","#A52A2A"]}, "legend": {"orient": "none", "legendX": 97, "legendY": 921}}}},
{"data": {"name": "fit"}, "transform": [{"filter": "datum.year == '2019'"}], "mark": {"type": "area", "color": "#999999", "opacity": 0.4}, "encoding": {"x": {"field": "x", "type": "quantitative"}, "y": {"field": "lo", "type": "quantitative", "axis": {"title": null, "format": "d", "values": [0,125,250,375,500,625,750,875,1000,1125,1250,1375,1500,1625,1750], "labelExpr": "datum.value % 250 === 0 ? datum.label : ''", "labelOverlap": false, "tickOpacity": {"condition": {"test": "datum.value % 250 === 0", "value": 1}, "value": 0}, "domain": false, "gridColor": {"condition": {"test": "datum.value % 250 === 0", "value": "#E6E6E6"}, "value": "#F0F0F0"}, "gridWidth": {"condition": {"test": "datum.value % 250 === 0", "value": 1.6}, "value": 0.9}}}, "y2": {"field": "hi"}}},
{"data": {"name": "fit"}, "transform": [{"filter": "datum.year == '2019'"}], "mark": {"type": "line", "color": "black", "strokeWidth": 2.6}, "encoding": {"x": {"field": "x", "type": "quantitative"}, "y": {"field": "fit", "type": "quantitative", "axis": {"title": null, "format": "d", "values": [0,125,250,375,500,625,750,875,1000,1125,1250,1375,1500,1625,1750], "labelExpr": "datum.value % 250 === 0 ? datum.label : ''", "labelOverlap": false, "tickOpacity": {"condition": {"test": "datum.value % 250 === 0", "value": 1}, "value": 0}, "domain": false, "gridColor": {"condition": {"test": "datum.value % 250 === 0", "value": "#E6E6E6"}, "value": "#F0F0F0"}, "gridWidth": {"condition": {"test": "datum.value % 250 === 0", "value": 1.6}, "value": 0.9}}}}},
{"data": {"name": "pts"}, "transform": [{"filter": "datum.year == '2019'"}], "mark": {"type": "rule", "color": "black", "strokeWidth": 1}, "encoding": {"x": {"field": "x", "type": "quantitative"}, "y": {"datum": -88, "axis": {"title": null, "format": "d", "values": [0,125,250,375,500,625,750,875,1000,1125,1250,1375,1500,1625,1750], "labelExpr": "datum.value % 250 === 0 ? datum.label : ''", "labelOverlap": false, "tickOpacity": {"condition": {"test": "datum.value % 250 === 0", "value": 1}, "value": 0}, "domain": false, "gridColor": {"condition": {"test": "datum.value % 250 === 0", "value": "#E6E6E6"}, "value": "#F0F0F0"}, "gridWidth": {"condition": {"test": "datum.value % 250 === 0", "value": 1.6}, "value": 0.9}}}, "y2": {"datum": -30}}},
{"data": {"name": "pts"}, "transform": [{"filter": "datum.year == '2019'"}], "mark": {"type": "rule", "color": "black", "strokeWidth": 1}, "encoding": {"y": {"field": "y", "type": "quantitative", "axis": {"title": null, "format": "d", "values": [0,125,250,375,500,625,750,875,1000,1125,1250,1375,1500,1625,1750], "labelExpr": "datum.value % 250 === 0 ? datum.label : ''", "labelOverlap": false, "tickOpacity": {"condition": {"test": "datum.value % 250 === 0", "value": 1}, "value": 0}, "domain": false, "gridColor": {"condition": {"test": "datum.value % 250 === 0", "value": "#E6E6E6"}, "value": "#F0F0F0"}, "gridWidth": {"condition": {"test": "datum.value % 250 === 0", "value": 1.6}, "value": 0.9}}}, "x": {"datum": -89}, "x2": {"datum": -31}}},
{"data": {"name": "ann"}, "transform": [{"filter": "datum.year == '2019'"}], "mark": {"type": "text", "align": "right", "baseline": "alphabetic", "fontSize": 21, "color": "black"}, "encoding": {"x": {"datum": 1750}, "y": {"datum": 830, "axis": {"title": null, "format": "d", "values": [0,125,250,375,500,625,750,875,1000,1125,1250,1375,1500,1625,1750], "labelExpr": "datum.value % 250 === 0 ? datum.label : ''", "labelOverlap": false, "tickOpacity": {"condition": {"test": "datum.value % 250 === 0", "value": 1}, "value": 0}, "domain": false, "gridColor": {"condition": {"test": "datum.value % 250 === 0", "value": "#E6E6E6"}, "value": "#F0F0F0"}, "gridWidth": {"condition": {"test": "datum.value % 250 === 0", "value": 1.6}, "value": 0.9}}}, "text": {"field": "eq"}}},
{"data": {"name": "ann"}, "transform": [{"filter": "datum.year == '2019'"}], "mark": {"type": "text", "align": "right", "baseline": "alphabetic", "fontSize": 21, "color": "black"}, "encoding": {"x": {"datum": 1750}, "y": {"datum": 490, "axis": {"title": null, "format": "d", "values": [0,125,250,375,500,625,750,875,1000,1125,1250,1375,1500,1625,1750], "labelExpr": "datum.value % 250 === 0 ? datum.label : ''", "labelOverlap": false, "tickOpacity": {"condition": {"test": "datum.value % 250 === 0", "value": 1}, "value": 0}, "domain": false, "gridColor": {"condition": {"test": "datum.value % 250 === 0", "value": "#E6E6E6"}, "value": "#F0F0F0"}, "gridWidth": {"condition": {"test": "datum.value % 250 === 0", "value": 1.6}, "value": 0.9}}}, "text": {"field": "r2"}}},
{"data": {"name": "ann"}, "transform": [{"filter": "datum.year == '2019'"}], "mark": {"type": "text", "align": "right", "baseline": "alphabetic", "fontSize": 21, "color": "black"}, "encoding": {"x": {"datum": 1750}, "y": {"datum": 205, "axis": {"title": null, "format": "d", "values": [0,125,250,375,500,625,750,875,1000,1125,1250,1375,1500,1625,1750], "labelExpr": "datum.value % 250 === 0 ? datum.label : ''", "labelOverlap": false, "tickOpacity": {"condition": {"test": "datum.value % 250 === 0", "value": 1}, "value": 0}, "domain": false, "gridColor": {"condition": {"test": "datum.value % 250 === 0", "value": "#E6E6E6"}, "value": "#F0F0F0"}, "gridWidth": {"condition": {"test": "datum.value % 250 === 0", "value": 1.6}, "value": 0.9}}}, "text": {"field": "n"}}}
]},
{"width": 23, "height": 161, "view": {"fill": "#D9D9D9", "stroke": null}, "data": {"name": "ann"}, "transform": [{"filter": "datum.year == '2019'"}], "mark": {"type": "text", "angle": 90, "fontSize": 18, "color": "#1A1A1A", "align": "center", "baseline": "middle"}, "encoding": {"text": {"field": "year"}}}
],
"config": {
"font": "Liberation Sans",
"view": {"stroke": "#333333", "strokeWidth": 1},
"axis": {"labelFontSize": 19, "labelColor": "#333333", "labelFont": "Liberation Sans", "tickColor": "#333333", "tickSize": 4, "labelPadding": 4, "titleFont": "Liberation Sans", "labelOverlap": false},
"legend": {"direction": "horizontal", "columns": 3, "titleOrient": "left", "titleFontSize": 23, "titleFontWeight": "normal", "titleColor": "black", "titleLimit": 600, "titleAnchor": "middle", "titleBaseline": "middle", "titlePadding": 20, "labelFontSize": 21, "labelColor": "black", "symbolSize": 314, "symbolType": "circle", "symbolStrokeWidth": 0, "symbolOpacity": 1, "labelOffset": 14, "columnPadding": 8, "rowPadding": 12, "padding": 15, "strokeColor": "#DDDDDD", "fillColor": "white", "cornerRadius": 0}
}
}
